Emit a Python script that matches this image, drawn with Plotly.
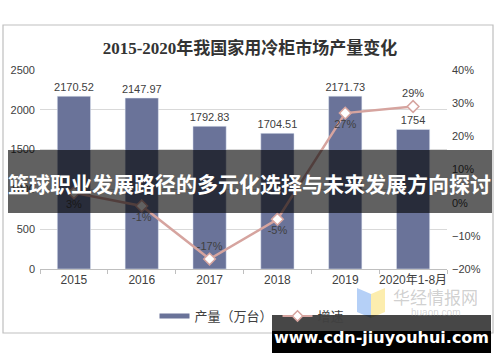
import plotly.graph_objects as go

categories = ["2015", "2016", "2017", "2018", "2019", "2020年1-8月"]
output_wan = [2170.52, 2147.97, 1792.83, 1704.51, 2171.73, 1754]
growth = [0.03, -0.01, -0.17, -0.05, 0.27, 0.29]
growth_label_pos = ["bottom center", "bottom center", "top center",
                    "bottom center", "bottom center", "top center"]

BAR = "#6a7399"
LINE = "#d6a49f"
TXT = "#404040"
FONT = "Liberation Sans, Noto Sans CJK SC, sans-serif"

fig = go.Figure()
fig.add_trace(go.Bar(
    x=categories, y=output_wan, marker_color=BAR, width=0.49,
    text=[f"{v:g}" for v in output_wan], texttemplate="%{text}", textposition="outside",
    constraintext="none",
    textfont=dict(size=11, color=TXT), cliponaxis=False, showlegend=False,
))
fig.add_trace(go.Scatter(
    x=categories, y=growth, yaxis="y2", mode="lines+markers+text",
    line=dict(color=LINE, width=2.5),
    marker=dict(symbol="diamond", size=9, color="white", line=dict(color=LINE, width=1.5)),
    texttemplate="%{y:.0%}", textposition=growth_label_pos,
    textfont=dict(size=11, color=TXT), cliponaxis=False, showlegend=False,
))
# legend entries
fig.add_trace(go.Scatter(x=[None], y=[None], mode="lines", name="产量（万台）",
                         line=dict(color=BAR, width=5)))
fig.add_trace(go.Scatter(x=[None], y=[None], mode="lines+markers", name="增速",
                         line=dict(color=LINE, width=2),
                         marker=dict(symbol="diamond", size=8, color="white",
                                     line=dict(color=LINE, width=1.5))))

L, R, T, B = 40, 447, 70, 269
W = R - L
H = B - T
def px(x): return (x - L) / W
def py(y): return (B - y) / H

shapes = [
    dict(type="rect", xref="paper", yref="paper", x0=px(3), x1=px(493), y0=py(333), y1=py(25),
         line=dict(color="#bfbfbf", width=1.2), fillcolor="rgba(0,0,0,0)", layer="below"),
    # logo watermark shapes
    dict(type="path", xref="paper", yref="paper",
         path=f"M {px(357)},{py(288)} L {px(371)},{py(294)} L {px(371)},{py(318)} L {px(357)},{py(312)} Z",
         fillcolor="rgba(120,170,240,0.55)", line=dict(width=0)),
    dict(type="path", xref="paper", yref="paper",
         path=f"M {px(371)},{py(294)} L {px(385)},{py(288)} L {px(385)},{py(312)} L {px(371)},{py(318)} Z",
         fillcolor="rgba(250,225,120,0.6)", line=dict(width=0)),
    # banner overlay
    dict(type="rect", xref="paper", yref="paper", x0=px(8), x1=px(492), y0=py(213), y1=py(150),
         fillcolor="rgba(0,0,0,0.62)", line=dict(width=0), layer="above"),
    # bottom watermark box (translucent top part, opaque bottom part)
    dict(type="rect", xref="paper", yref="paper", x0=px(272), x1=px(491), y0=py(331), y1=py(315),
         fillcolor="rgba(0,0,0,0.72)", line=dict(width=0), layer="above"),
    dict(type="rect", xref="paper", yref="paper", x0=px(272), x1=px(491), y0=py(353), y1=py(331),
         fillcolor="#000000", line=dict(width=0), layer="above"),
]

annotations = [
    dict(text="华经情报网", xref="paper", yref="paper", x=px(435), y=py(296), showarrow=False,
         font=dict(size=17, color="rgba(150,150,150,0.45)", family="Noto Sans CJK SC"), xanchor="center", yanchor="middle"),
    dict(text="huaon.com", xref="paper", yref="paper", x=px(435), y=py(312), showarrow=False,
         font=dict(size=10, color="rgba(150,150,150,0.4)", family="Liberation Sans"), xanchor="center", yanchor="middle"),
    dict(text="<b>篮球职业发展路径的多元化选择与未来发展方向探讨</b>", xref="paper", yref="paper",
         x=px(249), y=py(183), showarrow=False, xanchor="center", yanchor="middle",
         font=dict(size=21, color="white", family="Noto Sans CJK SC")),
    dict(text="<b>www.cdn-jiuyouhui.com</b>", xref="paper", yref="paper",
         x=px(381), y=py(337), showarrow=False, xanchor="center", yanchor="middle",
         font=dict(size=16, color="white", family="DejaVu Sans")),
]

fig.update_layout(
    width=500, height=362, margin=dict(l=L, r=500 - R, t=T, b=362 - B, autoexpand=False),
    paper_bgcolor="white", plot_bgcolor="white",
    font=dict(family=FONT, color=TXT, size=11),
    title=dict(text="<b>2015-2020年我国家用冷柜市场产量变化</b>", x=0.5, xanchor="center",
               y=1 - 48 / 362, yanchor="middle",
               font=dict(size=17, color="#333333", family="Liberation Serif, Noto Sans CJK SC")),
    bargap=0.5,
    xaxis=dict(showline=True, linecolor="#bfbfbf", ticks="outside", tickcolor="#bfbfbf",
               ticklen=4, tickson="boundaries", tickfont=dict(size=12, color=TXT),
               tickangle=0, automargin=False, showgrid=False),
    yaxis=dict(range=[0, 2500], dtick=500, showgrid=True, gridcolor="#d9d9d9", gridwidth=1.2,
               zeroline=False, ticks="", tickfont=dict(size=11, color=TXT), ticklabelstandoff=4,
               automargin=False),
    yaxis2=dict(range=[-0.2, 0.4], dtick=0.1, tickformat=".0%", overlaying="y", side="right",
                showgrid=False, zeroline=False, tickfont=dict(size=11, color=TXT),
                ticklabelstandoff=4, automargin=False),
    legend=dict(orientation="h", x=px(252), xanchor="center", y=py(316), yanchor="middle",
                font=dict(size=13, color=TXT), bgcolor="rgba(0,0,0,0)"),
    shapes=shapes, annotations=annotations,
)

fig.write_html("out.html", config={"displayModeBar": False},
               post_script="document.body.style.margin='0';")
